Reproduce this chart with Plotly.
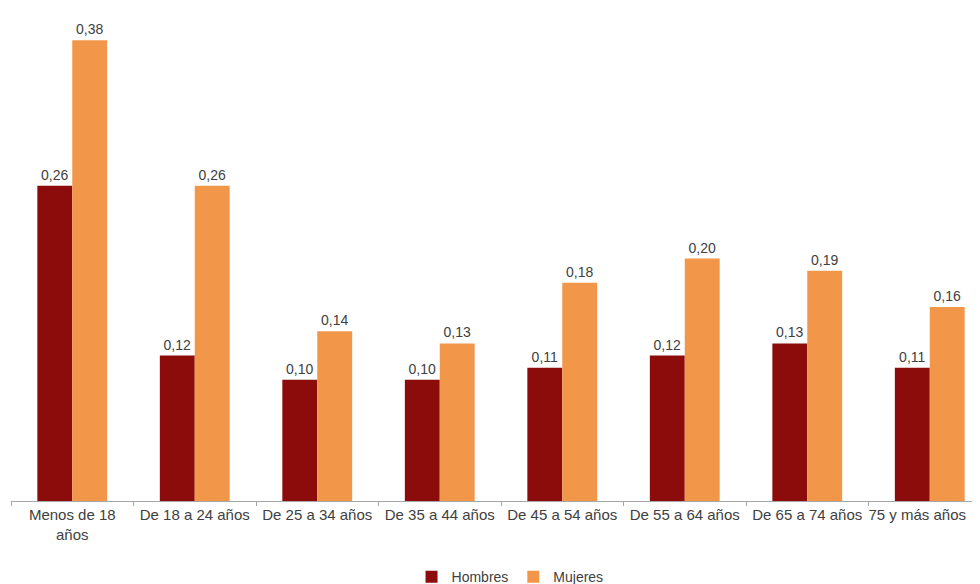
import plotly.graph_objects as go

categorias = ["Menos de 18<br>años", "De 18 a 24 años", "De 25 a 34 años", "De 35 a 44 años",
              "De 45 a 54 años", "De 55 a 64 años", "De 65 a 74 años",
              "75 y más años" + "\u00a0" * 6]
hombres = [0.26, 0.12, 0.10, 0.10, 0.11, 0.12, 0.13, 0.11]
mujeres = [0.38, 0.26, 0.14, 0.13, 0.18, 0.20, 0.19, 0.16]

font_family = "Liberation Sans, Arial, sans-serif"
text_color = "#404040"

fig = go.Figure()
fig.add_trace(go.Bar(
    x=categorias, y=hombres, name="Hombres",
    marker=dict(color="#8C0B0B", line=dict(width=0)),
    texttemplate="%{y:.2f}", textposition="outside", cliponaxis=False,
    textfont=dict(size=14, color=text_color, family=font_family),
))
fig.add_trace(go.Bar(
    x=categorias, y=mujeres, name="Mujeres",
    marker=dict(color="#F2974A", line=dict(width=0)),
    texttemplate="%{y:.2f}", textposition="outside", cliponaxis=False,
    textfont=dict(size=14, color=text_color, family=font_family),
))

# page body adds an 8px offset, so the figure is sized to the visible area
fig.update_layout(
    width=972, height=576,
    barmode="group", bargap=0.43, bargroupgap=0,
    separators=",.",
    plot_bgcolor="white", paper_bgcolor="white",
    margin=dict(l=3, r=0, t=2, b=83, autoexpand=False),
    font=dict(family=font_family, color=text_color, size=15),
    showlegend=True,
    legend=dict(orientation="h", x=0.515, xanchor="center", y=-0.155, yanchor="middle",
                font=dict(size=14, color=text_color), itemwidth=30, traceorder="normal"),
)
fig.update_xaxes(
    range=[-0.5, 7.41], automargin=False, showline=True, linecolor="#A6A6A6", linewidth=1,
    ticks="outside", tickson="boundaries", ticklen=4, tickcolor="#A6A6A6",
    tickfont=dict(size=15, color=text_color), tickangle=0, showgrid=False,
)
fig.update_yaxes(range=[0, 0.405], visible=False, showgrid=False, zeroline=False)

fig.write_html("out.html")
